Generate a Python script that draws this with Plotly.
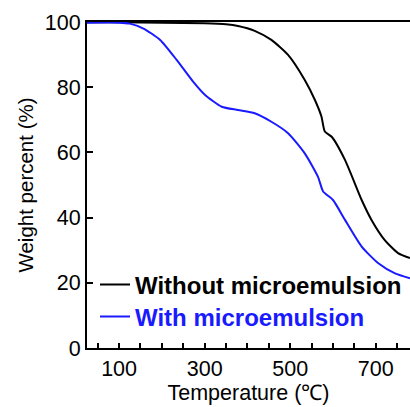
import plotly.graph_objects as go

temp_without = [25, 100, 200, 300, 350, 378, 417, 456, 495, 534, 558, 573, 581, 597, 628, 667, 690, 721, 752, 780]
weight_without = [99.9, 99.9, 99.8, 99.6, 99.3, 98.8, 97.3, 94.5, 89.9, 82.2, 76.0, 71.0, 66.4, 64.8, 57.7, 45.4, 39.3, 33.1, 29.1, 27.6]

temp_with = [25, 100, 125, 157, 196, 235, 273, 301, 340, 378, 417, 456, 495, 534, 565, 577, 600, 628, 667, 706, 745, 780]
weight_with = [99.8, 99.8, 99.5, 98.0, 94.5, 88.3, 81.7, 77.6, 74.0, 73.0, 72.0, 69.4, 65.9, 59.7, 52.5, 48.0, 45.4, 39.3, 31.1, 26.0, 22.9, 21.4]

names = ["Without microemulsion", "With microemulsion"]
colors = ["#000000", "#1a1aff"]
x_ticks = [100, 300, 500, 700]
y_ticks = [0, 20, 40, 60, 80, 100]

FONT = "Liberation Sans, Arial, sans-serif"

fig = go.Figure()
fig.add_trace(go.Scatter(x=temp_without, y=weight_without, mode="lines",
                         line=dict(color=colors[0], width=2, shape="spline", smoothing=0.6),
                         name=f"<b><span style='color:{colors[0]}'>{names[0]}</span></b>",
                         legend="legend", showlegend=True))
fig.add_trace(go.Scatter(x=temp_with, y=weight_with, mode="lines",
                         line=dict(color=colors[1], width=2, shape="spline", smoothing=0.6),
                         name=f"<b><span style='color:{colors[1]}'>{names[1]}</span></b>",
                         legend="legend2", showlegend=True))

leg_common = dict(bgcolor="rgba(0,0,0,0)", borderwidth=0, xanchor="left", yanchor="middle",
                  font=dict(family=FONT, size=24, color="#000"), itemwidth=30, visible=True)
fig.update_layout(
    width=410, height=407,
    showlegend=True,
    margin=dict(l=87, r=0, t=22, b=59),
    plot_bgcolor="white", paper_bgcolor="white",
    font=dict(family=FONT, size=21, color="#000"),
    legend=dict(x=8 / 323, y=(348 - 285) / 326, **leg_common),
    legend2=dict(x=8 / 323, y=(348 - 317) / 326, **leg_common),
    xaxis=dict(range=[25, 780], tickvals=x_ticks, ticks="inside", ticklen=5, tickwidth=1.5,
               tickcolor="#000", automargin=False,
               minor=dict(dtick=50, tick0=0, ticks="inside", ticklen=5, tickwidth=1.5, tickcolor="#000"),
               showline=True, linecolor="#000", linewidth=2, mirror=True, showgrid=False, zeroline=False,
               title=dict(text="Temperature (℃)", font=dict(size=21.5), standoff=2),
               tickfont=dict(size=21.5)),
    yaxis=dict(range=[0, 100], tickvals=y_ticks, ticks="inside", ticklen=6, tickwidth=1.5,
               tickcolor="#000", automargin=False, showline=True, linecolor="#000", linewidth=2,
               showgrid=False, zeroline=False,
               title=dict(text="Weight percent (%)", font=dict(size=20.5), standoff=6),
               tickfont=dict(size=21.5)),
)

# remove the page's default body margin so the 410x407 figure fills the window exactly
fig.write_html("out.html",
               config={"displayModeBar": False},
               post_script="document.body.style.margin='0';document.body.style.overflow='hidden';")
